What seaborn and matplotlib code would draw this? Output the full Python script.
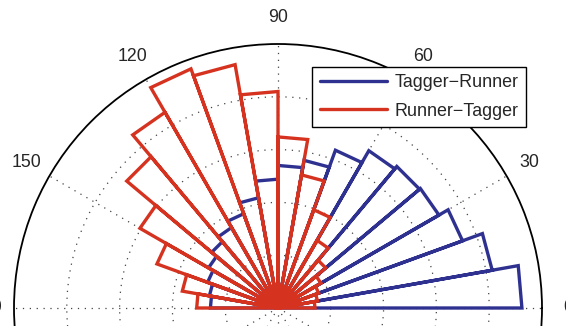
import numpy as np
import pandas as pd
import matplotlib
matplotlib.use('Agg')
import matplotlib.pyplot as plt
import seaborn as sns

# rose bins (degrees), only the upper half is visible in the figure
bin_edges_deg = [0, 10, 20, 30, 40, 50, 60, 70, 80, 90,
                 100, 110, 120, 130, 140, 150, 160, 170, 180]
tagger_runner = [23.1, 20.6, 18.6, 17.6, 17.5, 17.2, 15.9, 14.2, 13.5,
                 12.2, 10.6, 9.5, 8.8, 8.2, 7.6, 7.1, 6.6, 6.4]
runner_tagger = [3.5, 3.8, 4.1, 4.7, 5.9, 7.4, 9.9, 12.8, 16.2,
                 20.5, 23.4, 24.1, 21.4, 18.7, 15.1, 12.2, 9.2, 7.7]
series_names = ['Tagger\u2212Runner', 'Runner\u2212Tagger']
series_colors = ['#2e3190', '#d5321f']
angle_ticks = [0, 30, 60, 90, 120, 150, 180]
angle_labels = ['0', '30', '60', '90', '120', '150', '180']
r_max = 25
ring_ticks = [5, 10, 15, 20]


def rose_outline(edges, counts, name):
    # MATLAB rose style: center -> left edge -> right edge -> center per bin
    rows = []
    for i, c in enumerate(counts):
        a, b = np.deg2rad(edges[i]), np.deg2rad(edges[i + 1])
        for th, r in [(0.0, 0.0), (a, c), (b, c), (0.0, 0.0)]:
            rows.append({'theta': th, 'r': r, 'series': name})
    return rows


df = pd.DataFrame(rose_outline(bin_edges_deg, tagger_runner, series_names[0])
                  + rose_outline(bin_edges_deg, runner_tagger, series_names[1]))

sns.set_style('white')
plt.rcParams['font.family'] = ['Liberation Sans', 'DejaVu Sans']
plt.rcParams['lines.solid_joinstyle'] = 'miter'

W, H = 566, 326
fig = plt.figure(figsize=(W / 100, H / 100), dpi=100)
cx, cy, rad = 278, 308, 264
ax = fig.add_axes([(cx - rad) / W, (H - cy - rad) / H, 2 * rad / W, 2 * rad / H],
                  projection='polar')

sns.lineplot(data=df, x='theta', y='r', hue='series', hue_order=series_names,
             palette=series_colors, sort=False, estimator=None, linewidth=2.4,
             legend=False, ax=ax)

ax.set_ylim(0, r_max)
ax.set_rticks(ring_ticks)
ax.set_yticklabels([])
ax.set_thetagrids(np.arange(0, 360, 30), labels=[])
ax.grid(True, color='#444444', linestyle=(0, (1, 4.5)), linewidth=0.9)
ax.spines['polar'].set_color('black')
ax.spines['polar'].set_linewidth(1.3)
ax.set_xlabel('')
ax.set_ylabel('')
ax.set_facecolor('white')

for deg, lab in zip(angle_ticks, angle_labels):
    ax.text(np.deg2rad(deg), r_max * 1.1, lab, ha='center', va='center',
            fontsize=12.8, clip_on=False)

leg = ax.legend(ax.get_lines()[:2], series_names, loc='upper right',
                bbox_to_anchor=(526 / W, 1 - 67 / H), bbox_transform=fig.transFigure,
                fontsize=12.9, frameon=True, fancybox=False, handlelength=3.75,
                handletextpad=0.45, labelspacing=0.64, borderpad=0.4,
                borderaxespad=0)
leg.get_frame().set_edgecolor('black')
leg.get_frame().set_linewidth(1.0)
leg.get_frame().set_alpha(1)

fig.savefig('out.png', dpi=100)
